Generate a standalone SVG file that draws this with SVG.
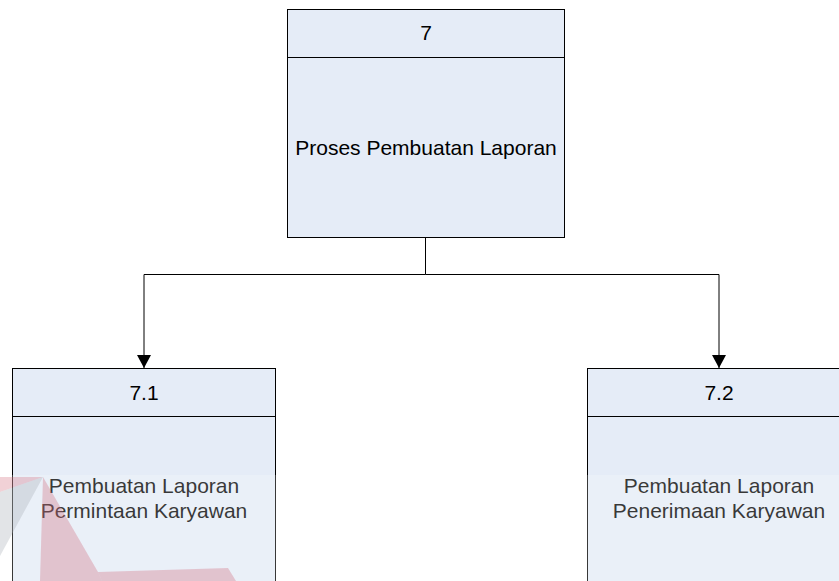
<svg xmlns="http://www.w3.org/2000/svg" width="839" height="581" viewBox="0 0 839 581">
  <style>
    .box { fill: #e5ecf7; stroke: #000000; stroke-width: 1; }
    .sep { stroke: #000000; stroke-width: 1; fill: none; }
    .lbl { font-family: "Liberation Sans", Arial, sans-serif; font-size: 21px; fill: #000000; text-anchor: middle; }
    .conn { stroke: #000000; stroke-width: 1; fill: none; }
  </style>
  <defs>
    <marker id="arrow" markerUnits="userSpaceOnUse" markerWidth="14" markerHeight="15" refX="13" refY="7.5" orient="auto">
      <path d="M0,0.5 L13,7.5 L0,14.5 Z" fill="#000000"/>
    </marker>
  </defs>
  <rect width="839" height="581" fill="#ffffff"/>

  <!-- process 7 -->
  <g id="node-7">
    <rect class="box" x="287.5" y="9.5" width="277" height="228"/>
    <line class="sep" x1="287.5" y1="57.5" x2="564.5" y2="57.5"/>
    <text class="lbl" x="426" y="40">7</text>
    <text class="lbl" x="426" y="155">Proses Pembuatan Laporan</text>
  </g>

  <!-- process 7.1 -->
  <g id="node-7-1">
    <rect class="box" x="12.5" y="368.5" width="263" height="240"/>
    <line class="sep" x1="12.5" y1="416.5" x2="275.5" y2="416.5"/>
    <text class="lbl" x="144" y="400">7.1</text>
    <text class="lbl" x="144" y="493">Pembuatan Laporan</text>
    <text class="lbl" x="144" y="518">Permintaan Karyawan</text>
  </g>

  <!-- process 7.2 -->
  <g id="node-7-2">
    <rect class="box" x="587.5" y="368.5" width="263" height="240"/>
    <line class="sep" x1="587.5" y1="416.5" x2="850.5" y2="416.5"/>
    <text class="lbl" x="719" y="400">7.2</text>
    <text class="lbl" x="719" y="493">Pembuatan Laporan</text>
    <text class="lbl" x="719" y="518">Penerimaan Karyawan</text>
  </g>

  <!-- decomposition connectors -->
  <g id="connectors">
    <path class="conn" d="M425.5,238 V274.5 H144 V368" marker-end="url(#arrow)"/>
    <path class="conn" d="M425.5,274.5 H719 V368" marker-end="url(#arrow)"/>
  </g>

  <!-- faint logo watermark -->
  <g id="watermark">
    <polygon points="43,477 0,477 0,492" fill="#c23a52" fill-opacity="0.3"/>
    <polygon points="43,477 0,492 0,556" fill="#8c95a0" fill-opacity="0.32"/>
    <polygon points="43,477 98,572 102,581 40,581" fill="#c23a52" fill-opacity="0.32"/>
    <polygon points="98,572 228,568 236,581 102,581" fill="#c23a52" fill-opacity="0.32"/>
  </g>
  <rect x="0" y="475" width="839" height="106" fill="#ffffff" fill-opacity="0.22"/>
</svg>
